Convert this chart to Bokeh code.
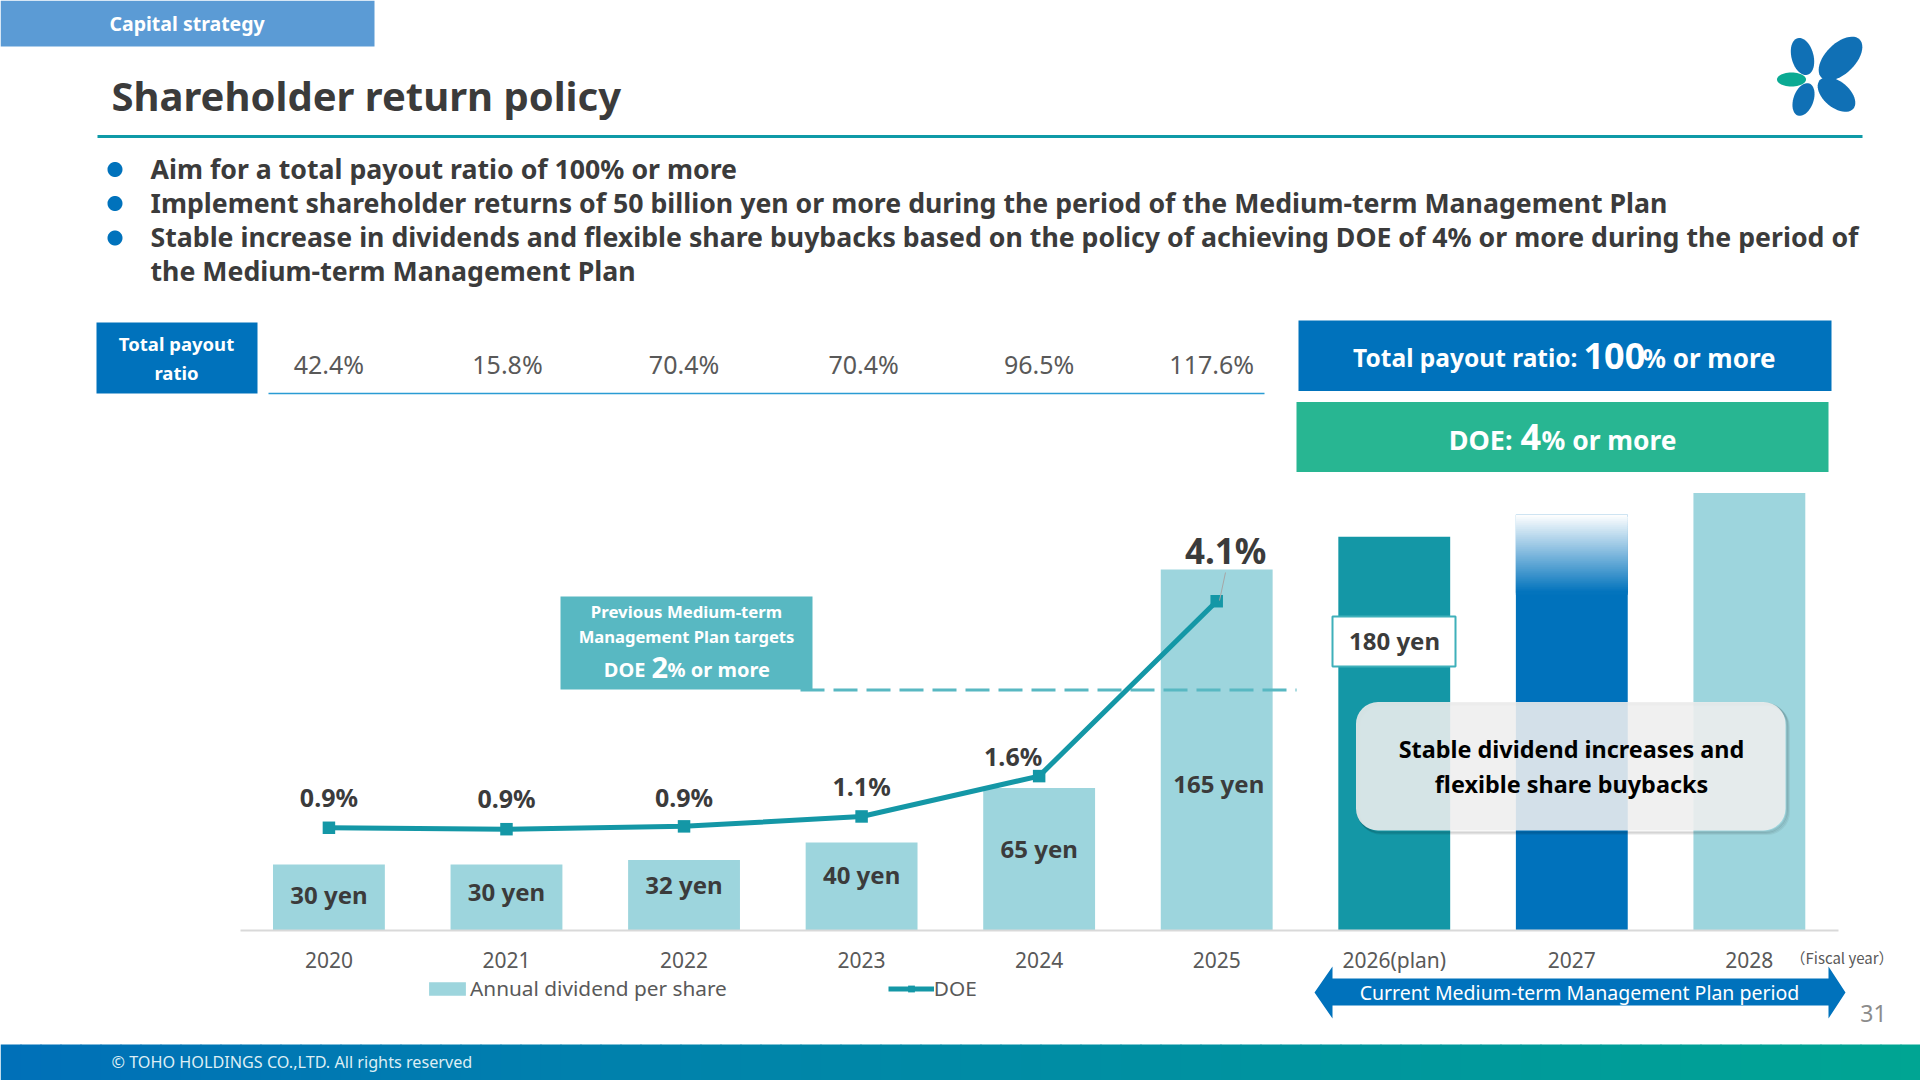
import math
from bokeh.core.properties import value
from bokeh.embed import file_html
from bokeh.resources import INLINE
from bokeh.plotting import figure
from bokeh.models import (BoxAnnotation, ColumnDataSource, FixedTicker, Label, Legend, LegendItem,
                          LinearAxis, PolyAnnotation, Range1d)

# ---- data ----
years = ["2020", "2021", "2022", "2023", "2024", "2025", "2026(plan)", "2027", "2028"]
dividend_yen = [30, 30, 32, 40, 65, 165, 180, 190, 200]
bar_labels = ["30 yen", "30 yen", "32 yen", "40 yen", "65 yen", "165 yen"]
doe_pct = [0.90, 0.88, 0.92, 1.06, 1.63, 4.10]
doe_labels = ["0.9%", "0.9%", "0.9%", "1.1%", "1.6%", "4.1%"]
payout_labels = ["42.4%", "15.8%", "70.4%", "70.4%", "96.5%", "117.6%"]
bullets = [
    "Aim for a total payout ratio of 100% or more",
    "Implement shareholder returns of 50 billion yen or more during the period of the Medium-term Management Plan",
    "Stable increase in dividends and flexible share buybacks based on the policy of achieving DOE of 4% or more during the period of",
    "the Medium-term Management Plan",
]

FONT = "Noto Sans"
DARK = "#3B3B3B"
GREY = "#595959"
LIGHT = "#9DD5DD"
TEAL = "#1497A6"
BLUE = "#0072BC"
W, H = 1920, 1080

# chart geometry in window pixels
FL, FR, FB = 240, 1838, 929.5
STEP = (FR - FL) / len(years)
YEN_PX = 2.185
DOE_PX = 70.8
DOE_ZERO = 891
idx = list(range(len(years)))
idx6 = idx[:6]

p = figure(width=W, height=H, output_backend="svg", toolbar_location=None,
           x_range=Range1d(-FL / STEP - 0.5 + 0.002, (W - FL) / STEP - 0.5 + 0.002),
           y_range=Range1d((FB - H) / YEN_PX, FB / YEN_PX),
           min_border=0, outline_line_color=None, background_fill_color=None,
           border_fill_color="white", x_axis_location=None, y_axis_location=None)
p.extra_y_ranges = {"doe": Range1d((DOE_ZERO - H) / DOE_PX, DOE_ZERO / DOE_PX),
                    "px": Range1d(H, 0)}
p.extra_x_ranges = {"px": Range1d(0, W)}
p.grid.visible = False

ax = LinearAxis(fixed_location=0, bounds=(-0.5, 8.5),
                ticker=FixedTicker(ticks=idx),
                major_label_overrides=dict(zip(idx, years)),
                axis_line_color="#D9D9D9", axis_line_width=2,
                major_tick_line_color=None, minor_tick_line_color=None,
                major_label_text_font=FONT, major_label_text_font_size="21px",
                major_label_text_color=GREY, major_label_standoff=10)
p.add_layout(ax, "below")


def label(x, y, text, size, color=DARK, bold=True, align="left", font=FONT):
    p.add_layout(Label(x=x, y=y, x_units="canvas", y_units="canvas", text=text,
                       text_font=font, text_font_size=f"{size}px", text_color=color,
                       text_font_style="bold" if bold else "normal",
                       text_align=align, text_baseline="middle"))


def box(l, r, t, b, color, alpha=1.0, line=None, lw=1, radius=0):
    p.add_layout(BoxAnnotation(left=l, right=r, top=t, bottom=b,
                               left_units="canvas", right_units="canvas",
                               top_units="canvas", bottom_units="canvas",
                               fill_color=color, fill_alpha=alpha,
                               line_color=line, line_alpha=1, line_width=lw, border_radius=radius,
                               editable=False))


def ellipse(cx, cy, a, b, deg, color):
    th = math.radians(deg)
    xs, ys = [], []
    for i in range(48):
        t = 2 * math.pi * i / 48
        u, v = a * math.cos(t), b * math.sin(t)
        xs.append(cx + u * math.cos(th) - v * math.sin(th))
        ys.append(cy - u * math.sin(th) - v * math.cos(th))
    p.add_layout(PolyAnnotation(xs=xs, ys=ys, xs_units="canvas", ys_units="canvas",
                                fill_color=color, fill_alpha=1, line_color=None, editable=False))


# ---- bars, line ----
colors = [LIGHT] * 6 + [TEAL, BLUE, LIGHT]
src = ColumnDataSource(dict(x=idx, top=dividend_yen, color=colors))
bars = p.vbar(x="x", top="top", bottom=0, width=0.63, fill_color="color", line_color=None, source=src)

# fade at the head of the 2027 bar (opaque strips, painted top-down with overlap)
v27 = dividend_yen[7]
n = 39
fade_px = 78
base = (0, 114, 188)
for i in range(n):
    hi = v27 - (i * fade_px / n) / YEN_PX
    lo = v27 - ((i + 2) * fade_px / n) / YEN_PX
    f = 1 - (i + 0.5) / n
    c = "#%02X%02X%02X" % tuple(round(b + (255 - b) * f) for b in base)
    p.vbar(x=[7], top=[hi], bottom=[lo], width=0.63, fill_color=c, line_color=None)

p.line(x=[800, 1296], y=[689.5, 689.5], x_range_name="px", y_range_name="px",
       line_color="#58B8C2", line_width=3, line_dash=[24, 9])
line = p.line(x=idx6, y=doe_pct, y_range_name="doe", line_color=TEAL, line_width=5)
sq = p.scatter(x=idx6, y=doe_pct, y_range_name="doe", marker="square", size=12.5,
               fill_color=TEAL, line_color=None)
p.line(x=[1225, 1219], y=[572, 600], x_range_name="px", y_range_name="px",
       line_color="#A6A6A6", line_width=1)

# ---- in-chart texts through the x scale ----
F = value(FONT)
p.text(x=idx6, y=[363] * 6, text=payout_labels, y_range_name="px",
       x_offset=[0, 1, 0, 2, 0, -5], text_font=F, text_font_size="25px", text_color=GREY,
       text_align="center", text_baseline="middle")
p.text(x=idx6, y=[894, 891, 884, 874, 848, 783], text=bar_labels, y_range_name="px",
       x_offset=[0, 0, 0, 0, 0, 2], text_font=F, text_font_size="24px", text_font_style="bold",
       text_color=DARK, text_align="center", text_baseline="middle")
p.text(x=idx6[:5], y=[796, 797, 796, 785, 755], text=doe_labels[:5], y_range_name="px",
       x_offset=[0, 0, 0, 0, -26], text_font=F, text_font_size="25px", text_font_style="bold",
       text_color=DARK, text_align="center", text_baseline="middle")
p.text(x=[idx6[5]], y=[550], text=[doe_labels[5]], y_range_name="px", x_offset=[9],
       text_font=F, text_font_size="35px", text_font_style="bold",
       text_color=DARK, text_align="center", text_baseline="middle")

# legend
legend = Legend(items=[LegendItem(label="Annual dividend per share", renderers=[bars], index=0),
                       LegendItem(label="DOE", renderers=[line, sq])],
                orientation="horizontal", location=(424, 78), spacing=161, padding=0, margin=0,
                glyph_width=46, glyph_height=17, label_standoff=0,
                label_text_font=FONT, label_text_font_size="20.8px", label_text_color=GREY,
                background_fill_alpha=0, border_line_color=None)
p.add_layout(legend, "center")

# ---- slide furniture ----
box(0, 374, 0, 46, "#5B9BD5")
label(109, 23, "Capital strategy", 19.5, "white")
label(111, 95, "Shareholder return policy", 40)
box(97, 1862, 134.5, 137.5, "#0E9AA7")
for cy in (169, 203, 237.5):
    ellipse(114.5, cy, 7.5, 7.5, 0, BLUE)
for y, t in zip((168, 202, 236, 270), bullets):
    label(150, y, t, 26.7)

# payout row
box(96, 257, 322, 393, BLUE)
label(176, 343, "Total payout", 18.5, "white", align="center")
label(176, 372, "ratio", 18.5, "white", align="center")
box(268, 1264, 392.2, 393.7, "#2A9CD4")

# right banners
box(1298, 1831, 320, 390.5, BLUE)
label(1577, 357, "Total payout ratio:", 24.5, "white", align="right")
label(1583, 355, "100", 36, "white")
label(1642, 357, "% or more", 26, "white")
box(1296, 1828, 401.5, 471.5, "#28B692")
label(1512, 439, "DOE:", 27, "white", align="right")
label(1520, 436, "4", 36, "white")
label(1541, 439, "% or more", 26.4, "white")

# previous plan callout
box(560, 812, 596, 689, "#58B8C2")
label(686, 611, "Previous Medium-term", 16.8, "white", align="center")
label(686, 635.5, "Management Plan targets", 16.6, "white", align="center")
label(645, 669, "DOE", 20, "white", align="right")
label(651, 667, "2", 29, "white")
label(667, 669, "% or more", 20, "white")

# 180 yen
box(1332, 1455, 616, 666, "white", line="#3FB0BA", lw=2)
label(1394, 640, "180 yen", 24, align="center")

# rounded note with soft shadow rings
for d, a in ((3.5, 0.05), (2.5, 0.07), (1.5, 0.10)):
    p.add_layout(BoxAnnotation(left=1355.5 + d, right=1785 + d, top=701.5 + d, bottom=830 + d,
                               left_units="canvas", right_units="canvas", top_units="canvas", bottom_units="canvas",
                               fill_alpha=0, line_color="black", line_alpha=a, line_width=2,
                               border_radius=22, editable=False))
box(1355.5, 1785, 701.5, 830, "#EEEEEE", alpha=0.886, radius=22)
label(1571, 748.5, "Stable dividend increases and", 23.4, "#000000", align="center")
label(1571, 783, "flexible share buybacks", 23.4, "#000000", align="center")

# plan period arrow
ax_x = [1314, 1332, 1332, 1828, 1828, 1845, 1828, 1828, 1332, 1332]
ax_y = [992, 966, 978, 978, 966, 992, 1018, 1005, 1005, 1018]
p.add_layout(PolyAnnotation(xs=ax_x, ys=ax_y,
                            xs_units="canvas", ys_units="canvas", fill_color=BLUE, fill_alpha=1,
                            line_color=None, editable=False))
label(1579, 992, "Current Medium-term Management Plan period", 19.5, "white", align="center", bold=False)
label(1790, 957, "（Fiscal year）", 15, GREY, bold=False, font="Noto Sans CJK JP")
label(1873, 1013, "31", 23, "#8C8C8C", bold=False, align="center")

# logo
for args in ((1802, 56, 19, 11, 105), (1840, 58, 27, 15, 45), (1803, 99, 17, 10, 70), (1836, 94, 22, 13, -40)):
    ellipse(*args, "#1070B5")
ellipse(1791, 79, 14.5, 7, 0, "#0AAA93")

# footer gradient
steps = 96
c0, c1 = (0, 112, 184), (0, 165, 147)
for i in range(steps):
    f = i / (steps - 1)
    col = "#%02X%02X%02X" % tuple(round(a + (b - a) * f) for a, b in zip(c0, c1))
    box(W * i / steps, W * (i + 1) / steps + 1, 1044, H, col)
label(111, 1061, "© TOHO HOLDINGS CO.,LTD. All rights reserved", 16.2, "#DDEEF5", bold=False)

open("out.html", "w").write(file_html(p, INLINE))
